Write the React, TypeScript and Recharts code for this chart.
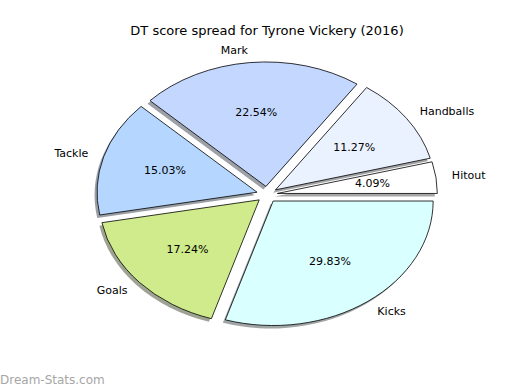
import { PieChart, Pie, Cell } from "recharts";

// ─── Data ──────────────────────────────────────────────────────────────────
const CATEGORIES = ["Hitout", "Handballs", "Mark", "Tackle", "Goals", "Kicks"];
const SHARES = [4.09, 11.27, 22.54, 15.03, 17.24, 29.83];
const COLORS = ["#ffffff", "#ebf2ff", "#c4d8ff", "#b4d6ff", "#cfeb8b", "#d9ffff"];

const data = CATEGORIES.map((name, i) => ({ name, value: SHARES[i] }));

// pie is squashed like a matplotlib pie in a non-square axes
const CX = 267;
const CY = 194.5;
const RX = 160;
const RY = 124.5;
const EXPLODE = 0.065;
const SHADOW_DX = -2.5;
const SHADOW_DY = 3;
const FONT = "'DejaVu Sans', sans-serif";

const RAD = Math.PI / 180;

function ellipsePoint(cx: number, cy: number, k: number, deg: number) {
  return [cx + k * RX * Math.cos(deg * RAD), cy - k * RY * Math.sin(deg * RAD)];
}

function wedgePath(start: number, end: number, dx = 0, dy = 0) {
  const mid = (start + end) / 2;
  const ox = CX + EXPLODE * RX * Math.cos(mid * RAD) + dx;
  const oy = CY - EXPLODE * RY * Math.sin(mid * RAD) + dy;
  const [x1, y1] = ellipsePoint(ox, oy, 1, start);
  const [x2, y2] = ellipsePoint(ox, oy, 1, end);
  const large = end - start > 180 ? 1 : 0;
  return `M${ox},${oy} L${x1},${y1} A${RX},${RY} 0 ${large} 0 ${x2},${y2} Z`;
}

function shade(hex: string) {
  const n = parseInt(hex.slice(1), 16);
  const r = Math.round(((n >> 16) & 255) * 0.3);
  const g = Math.round(((n >> 8) & 255) * 0.3);
  const b = Math.round((n & 255) * 0.3);
  return `rgb(${r},${g},${b})`;
}

function WedgeShape(props: any) {
  return (
    <path
      d={wedgePath(props.startAngle, props.endAngle)}
      fill={props.fill}
      stroke="#000"
      strokeWidth={0.8}
      strokeLinejoin="round"
    />
  );
}

function ShadowShape(props: any) {
  return (
    <path
      d={wedgePath(props.startAngle, props.endAngle, SHADOW_DX, SHADOW_DY)}
      fill={shade(props.fill)}
      fillOpacity={0.5}
      stroke="none"
    />
  );
}

function renderLabel(props: any) {
  const mid = props.midAngle as number;
  const ox = CX + EXPLODE * RX * Math.cos(mid * RAD);
  const oy = CY - EXPLODE * RY * Math.sin(mid * RAD);
  const [lx, ly] = ellipsePoint(ox, oy, 1.1, mid);
  const [px, py] = ellipsePoint(ox, oy, 0.6, mid);
  const anchor = Math.cos(mid * RAD) >= 0 ? "start" : "end";
  return (
    <g>
      <text
        x={lx}
        y={ly}
        textAnchor={anchor}
        dominantBaseline="central"
        fontSize={11}
        fontFamily={FONT}
        fill="#000"
      >
        {props.name}
      </text>
      <text
        x={px}
        y={py}
        textAnchor="middle"
        dominantBaseline="central"
        fontSize={11}
        fontFamily={FONT}
        fill="#000"
      >
        {`${(props.percent * 100).toFixed(2)}%`}
      </text>
    </g>
  );
}

export default function App() {
  return (
    <div style={{ position: "absolute", left: 0, top: 0, width: 520, height: 390, background: "#fff" }}>
      <PieChart width={520} height={390} margin={{ top: 0, right: 0, bottom: 0, left: 0 }}>
        <text
          x={267}
          y={30}
          textAnchor="middle"
          dominantBaseline="central"
          fontSize={13}
          fontFamily={FONT}
          fill="#000"
        >
          DT score spread for Tyrone Vickery (2016)
        </text>
        <Pie
          data={data}
          dataKey="value"
          cx={CX}
          cy={CY}
          outerRadius={RX}
          startAngle={0}
          endAngle={360}
          stroke="none"
          shape={ShadowShape}
          label={false}
          labelLine={false}
          isAnimationActive={false}
        >
          {data.map((d, i) => (
            <Cell key={d.name} fill={COLORS[i]} />
          ))}
        </Pie>
        <Pie
          data={data}
          dataKey="value"
          cx={CX}
          cy={CY}
          outerRadius={RX}
          startAngle={0}
          endAngle={360}
          shape={WedgeShape}
          label={renderLabel}
          labelLine={false}
          isAnimationActive={false}
        >
          {data.map((d, i) => (
            <Cell key={d.name} fill={COLORS[i]} />
          ))}
        </Pie>
        <text x={0} y={380} dominantBaseline="central" fontSize={12} fontFamily={FONT} fill="#a6a6a6">
          Dream-Stats.com
        </text>
      </PieChart>
    </div>
  );
}
